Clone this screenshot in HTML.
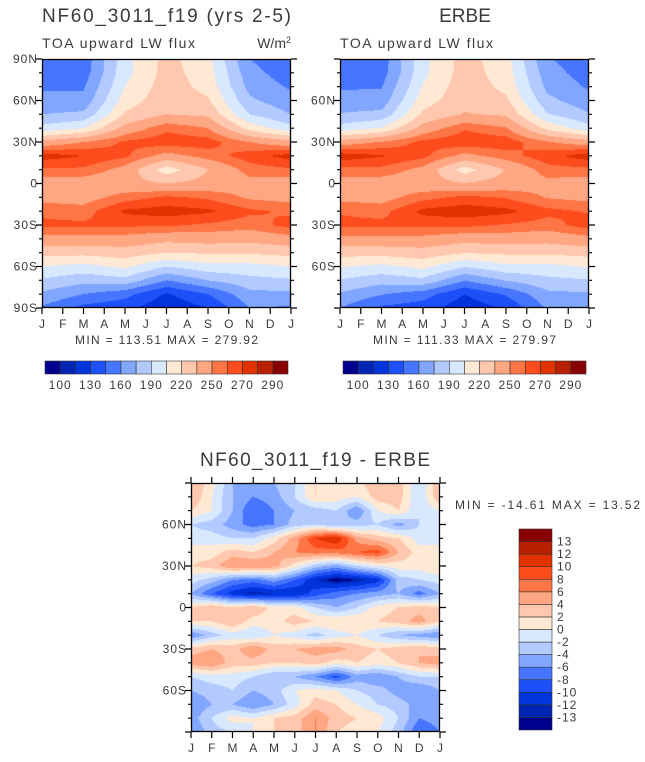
<!DOCTYPE html>
<html><head><meta charset="utf-8"><style>
body{margin:0;background:#fff;}
#root{position:relative;width:645px;height:762px;overflow:hidden;background:#fff;font-family:"Liberation Sans",sans-serif;}
canvas{position:absolute;}
svg{position:absolute;left:0;top:0;}
text{font-family:"Liberation Sans",sans-serif;fill:#3a3a3a;}
</style></head><body>
<div id="root">
<canvas id="c1" width="249" height="249" style="left:42px;top:59px"></canvas>
<canvas id="c2" width="249" height="249" style="left:340px;top:59px"></canvas>
<canvas id="c3" width="249" height="249" style="left:191px;top:483px"></canvas>
<svg id="ov" width="645" height="762"></svg>
</div>
<script>
const palette=["#00008f","#0024b4","#0035dc","#1e50fa","#4676ff","#80a6ff","#b2caff","#d8e8ff","#ffe8d4","#ffc8ae","#ffa682","#ff7646","#ff4c1c","#e23200","#b82000","#880000"];
const fluxLevels=[100,115,130,145,160,175,190,205,220,235,250,260,270,280,290];
const fluxLevelLabels=["100","130","160","190","220","250","270","290"];
const diffLevels=[-13,-12,-10,-8,-6,-4,-2,0,2,4,6,8,10,12,13];
const diffLevelLabels=["-13","-12","-10","-8","-6","-4","-2","0","2","4","6","8","10","12","13"];
const monthLabels=["J","F","M","A","M","J","J","A","S","O","N","D","J"];
const latLabels=["90N","60N","30N","0","30S","60S","90S"];
const latitudes=[90,80,70,60,50,40,30,20,10,0,-10,-20,-30,-40,-50,-60,-70,-80,-90];
const fluxMonths=[0,2,4,6,8,10,12];
const modelJan=[150,152,158,165,175,195,240,275,258,242,245,258,262,245,225,205,188,172,158];
const modelMar=[150,152,158,165,178,205,250,270,258,242,244,255,262,245,225,200,180,160,140];
const modelMay=[200,200,205,212,222,240,262,262,245,240,255,272,262,245,228,208,185,150,135];
const modelJul=[225,226,228,230,235,258,266,245,212,235,262,275,262,240,220,190,160,128,118];
const modelSep=[210,212,215,222,232,250,265,255,235,240,258,272,258,242,222,200,175,145,130];
const modelNov=[160,165,170,178,190,215,250,265,255,245,248,262,255,240,222,200,185,170,160];
const modelJan2=[150,152,158,165,175,195,240,275,258,242,245,258,264,245,225,205,188,172,158];
const erbeJan=[152,153,158,166,176,196,242,276,257,243,246,259,263,246,226,206,189,173,160];
const erbeMar=[151,153,159,166,179,206,251,271,257,243,245,256,263,246,226,201,181,161,142];
const erbeMay=[201,201,206,213,223,241,263,263,246,241,256,273,263,246,229,209,186,152,137];
const erbeJul=[226,227,229,231,236,259,267,246,213,236,263,276,263,241,221,191,161,130,120];
const erbeSep=[211,213,216,223,233,251,266,256,236,241,259,273,259,243,223,201,176,147,132];
const erbeNov=[161,166,171,179,191,216,251,266,256,246,249,263,256,241,223,201,186,171,162];
const erbeJan2=[152,153,158,166,176,196,242,276,257,243,246,259,265,246,226,206,189,173,160];
const d90N=[4,1,-4,-6,-4,-2,2,1,1,4,3,-2,4];
const d80N=[4,0,-4,-6,-5,-2,2,1,0,3,3,-2,4];
const d70N=[2,0,-4,-8,-6,-4,-3,-2,-6,0,2,-2,0];
const d60N=[-2,-3,-5,-7,-6,-3,-2,-4,-3,-2,-5,-2,-2];
const d50N=[-1,-1,-2,-2,1,5,10,12,5,3,2,-1,-1];
const d40N=[1,1,3,2,4,6,7,7,8,9,4,1,1];
const d30N=[2,3,6,6,5,1,-3,-5,-2,0,1,1,2];
const d20N=[-1,-3,-6,-7,-5,-8,-12,-14,-13,-11,-3,-2,-1];
const d10N=[-4,-8,-11,-13,-12,-12,-9,-7,-6,-5,-4,-7,-4];
const d0=[2,4,2,4,1,1,-2,-4,-2,1,2,3,2];
const d10S=[2,2,4,1,1,3,2,2,2,2,3,5,2];
const d20S=[-6,-3,-1,-2,0,-1,-3,-1,0,-2,-4,-5,-6];
const d30S=[3,4,3,6,3,4,5,5,3,2,3,4,3];
const d40S=[5,6,3,3,2,2,3,1,2,1,2,4,5];
const d50S=[-2,-1,-1,-2,-4,-4,-6,-9,-5,-6,-4,-2,-2];
const d60S=[-4,-3,-2,-4,-3,0,1,0,-2,-3,-5,-6,-4];
const d70S=[-6,-4,-4,-6,-4,-1,3,2,0,-2,-3,-5,-6];
const d80S=[-5,-2,1,0,2,3,6,3,2,1,-2,-6,-5];
const d90S=[-6,-3,-2,0,2,3,6,2,1,0,-3,-8,-6];

const months13=[0,1,2,3,4,5,6,7,8,9,10,11,12];
function colsToRows(cols){return latitudes.map((_,r)=>cols.map(c=>c[r]));}
const modelGrid=colsToRows([modelJan,modelMar,modelMay,modelJul,modelSep,modelNov,modelJan2]);
const erbeGrid=colsToRows([erbeJan,erbeMar,erbeMay,erbeJul,erbeSep,erbeNov,erbeJan2]);
const diffGrid=[d90N,d80N,d70N,d60N,d50N,d40N,d30N,d20N,d10N,d0,d10S,d20S,d30S,d40S,d50S,d60S,d70S,d80S,d90S];

function hex(c){return [parseInt(c.substr(1,2),16),parseInt(c.substr(3,2),16),parseInt(c.substr(5,2),16)];}
const palRGB=palette.map(hex);
function levelIdx(v,lv){let i=0;while(i<lv.length&&v>=lv[i])i++;return i;}
function sample(grid,mx,lat,months){
  let ci=0;while(ci<months.length-2&&mx>months[ci+1])ci++;
  const tx=(mx-months[ci])/(months[ci+1]-months[ci]);
  const rf=(90-lat)/10;let ri=Math.min(17,Math.floor(rf));const ty=rf-ri;
  const a=grid[ri][ci],b=grid[ri][ci+1],c=grid[ri+1][ci],d=grid[ri+1][ci+1];
  return (a*(1-tx)+b*tx)*(1-ty)+(c*(1-tx)+d*tx)*ty;
}
function drawMap(id,grid,months,lv){
  const cv=document.getElementById(id),ctx=cv.getContext('2d');
  const W=cv.width,H=cv.height,img=ctx.createImageData(W,H);
  for(let y=0;y<H;y++){const lat=90-180*(y+0.5)/H;
    for(let x=0;x<W;x++){const mx=12*(x+0.5)/W;
      const v=sample(grid,mx,lat,months);const c=palRGB[levelIdx(v,lv)];
      const k=(y*W+x)*4;img.data[k]=c[0];img.data[k+1]=c[1];img.data[k+2]=c[2];img.data[k+3]=255;}}
  ctx.putImageData(img,0,0);
}
drawMap('c1',modelGrid,fluxMonths,fluxLevels);
drawMap('c2',erbeGrid,fluxMonths,fluxLevels);
drawMap('c3',diffGrid,months13,diffLevels);

const NS='http://www.w3.org/2000/svg',ov=document.getElementById('ov');
function el(tag,attrs,txt){const e=document.createElementNS(NS,tag);for(const k in attrs)e.setAttribute(k,attrs[k]);if(txt!==undefined)e.textContent=txt;ov.appendChild(e);return e;}
function axes(x0,y0,w,h,opt,prefix){
  const f=el('rect',{x:x0+0.5,y:y0+0.5,width:w-1,height:h-1,fill:'none',stroke:'#000','stroke-width':1.3});
  
  
  const yOf=lat=>y0+(90-lat)/180*h, xOf=m=>x0+m/12*w;
  let p='';
  for(let lat=-90;lat<=90;lat+=10){const y=yOf(lat),L=(lat%30===0)?6:3;
    p+=`M${x0},${y}h${-L}M${x0+w},${y}h${L}`;}
  months13.forEach(m=>{const x=xOf(m);p+=`M${x},${y0+h}v6`;if(opt.topTicks)p+=`M${x},${y0}v-6`;});
  const t=el('path',{d:p,stroke:'#000','stroke-width':1.2,fill:'none'});
  
  
  months13.forEach(m=>{const tx=el('text',{x:xOf(m),y:y0+h+20,'font-size':12,'text-anchor':'middle'},monthLabels[m]);
    
    });
  latLabels.forEach((s,i)=>{const lat=90-30*i;if(!opt.endLabels&&(i===0||i===6))return;
    const tx=el('text',{x:x0-4,y:yOf(lat)+4,'font-size':12,'text-anchor':'end','letter-spacing':1},s);
    
    });
}
axes(42,59,249,249,{endLabels:true},'model');
axes(340,59,249,249,{endLabels:false},'erbe');
axes(191,483,249,249,{endLabels:false,topTicks:true},'diff');

function txt(x,y,s,size,anchor,name,len){const a={x:x,y:y,'font-size':size,'text-anchor':anchor||'start'};
  if(len){a.textLength=len;a.lengthAdjust='spacing';}
  const t=el('text',a,s);
  
  return t;}
txt(42,22,'NF60_3011_f19 (yrs 2-5)',19,'start','model-title',249);
txt(42,48,'TOA upward LW flux',14,'start','model-subtitle',153);
const u=txt(291,48,'W/m',14,'end','units-label');
const sup=document.createElementNS(NS,'tspan');sup.setAttribute('font-size','9');sup.setAttribute('dy','-5');sup.textContent='2';u.appendChild(sup);
txt(465,22,'ERBE',19,'middle','erbe-title');
txt(340,48,'TOA upward LW flux',14,'start','erbe-subtitle',153);
txt(75,344,'MIN = 113.51 MAX = 279.92',12,'start','model-minmax',183);
txt(373,344,'MIN = 111.33 MAX = 279.97',12,'start','erbe-minmax',183);
txt(200,466,'NF60_3011_f19 - ERBE',19,'start','diff-title',230);
txt(455,509,'MIN = -14.61 MAX =  13.52',12,'start','diff-minmax',185);

function hbar(x0,y0,w,h,prefix){
  const bw=w/16;
  for(let i=0;i<16;i++){const r=el('rect',{x:x0+i*bw,y:y0,width:bw,height:h,fill:palette[i],stroke:'#333','stroke-width':0.6});
    
    }
  fluxLevelLabels.forEach((s,i)=>{const t=el('text',{x:x0+(1+2*i)*bw,y:y0+h+15,'font-size':12,'text-anchor':'middle','letter-spacing':1},s);
    
    });
}
hbar(45,361,243,13,'model');
hbar(343,361,243,13,'erbe');
(function(){const x0=519,y0=529,w=33,h=201,bh=h/16;
  for(let i=0;i<16;i++){const r=el('rect',{x:x0,y:y0+(15-i)*bh,width:w,height:bh,fill:palette[i],stroke:'#333','stroke-width':0.6});
    
    }
  diffLevelLabels.forEach((s,i)=>{const t=el('text',{x:557,y:y0+(15-i)*bh+4,'font-size':12,'letter-spacing':1},s);
    
    });
})();
</script>
</body></html>
